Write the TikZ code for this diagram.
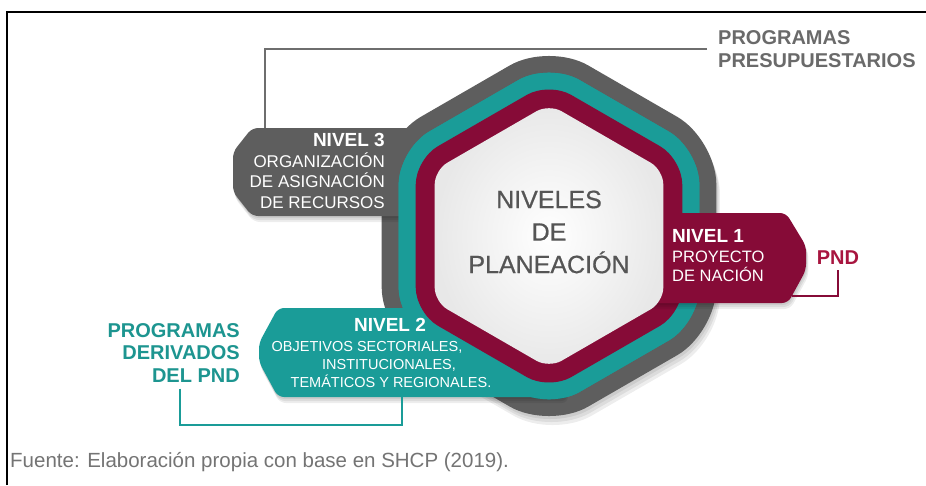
\documentclass[tikz,border=0pt]{standalone}
\usepackage{fontspec}
\setmainfont{Liberation Sans}
\newfontfamily\medfont[FakeBold=0.6]{Liberation Sans}
\usetikzlibrary{calc}
\definecolor{hgray}{HTML}{5E5E5E}
\definecolor{hteal}{HTML}{1A9C98}
\definecolor{hmaroon}{HTML}{860B37}
\definecolor{pndred}{HTML}{A8153F}
\definecolor{tealtxt}{HTML}{1D9590}
\definecolor{graytxt}{HTML}{6A6A6A}
\definecolor{centertxt}{HTML}{555555}
\definecolor{captxt}{HTML}{747474}
\newcommand{\hexpath}[1]{(549,236-#1) -- (549+0.866*#1,236-0.5*#1) -- (549+0.866*#1,236+0.5*#1) -- (549,236+#1) -- (549-0.866*#1,236+0.5*#1) -- (549-0.866*#1,236-0.5*#1) -- cycle}
\newcommand{\boxthree}{(450,128) -- (252,128) -- (233,152) -- (233,192) -- (252,216) -- (450,216) -- cycle}
\newcommand{\boxtwo}{(566,308) -- (278,308) -- (259,343) -- (259,362) -- (278,397) -- (566,397) -- cycle}
\newcommand{\boxone}{(600,213) -- (786,213) -- (806,246) -- (806,270) -- (788,303) -- (600,303) -- cycle}
\tikzset{
  shad/.style={fill=black, opacity=0.07},
  boxtxt/.style={text=white, inner sep=0pt},
  leader/.style={line width=2pt},
}
\begin{document}
\begin{tikzpicture}[x=1pt,y=-1pt]
\useasboundingbox (0,0) rectangle (926,485);
\fill[white] (0,0) rectangle (926,485);
% frame
\draw[line width=2pt] (7,485) -- (7,12) -- (926,12);

% gray hexagon with soft shadow
\foreach \s in {3,6,9} {\fill[shad, rounded corners=45, shift={(\s*0.4,\s)}] \hexpath{193.2};}
\fill[hgray, rounded corners=45] \hexpath{193.2};

% NIVEL 3 box
\foreach \s in {2,4,6} {\fill[shad, rounded corners=6, shift={(\s*0.3,\s)}] \boxthree;}
\fill[hgray, rounded corners=6] \boxthree;

% teal hexagon
\fill[hteal, rounded corners=35.2] \hexpath{173.6};

% NIVEL 2 box
\foreach \s in {2,4,6} {\fill[shad, rounded corners=6, shift={(\s*0.3,\s)}] \boxtwo;}
\fill[hteal, rounded corners=6] \boxtwo;
\fill[hteal, rounded corners=35.2] \hexpath{173.6};

% maroon hexagon
\fill[hmaroon, rounded corners=25.4] \hexpath{153.9};

% NIVEL 1 box
\foreach \s in {2,4,6} {\fill[shad, rounded corners=6, shift={(\s*0.4,\s)}] \boxone;}
\fill[hmaroon, rounded corners=6] \boxone;

% white hexagon
\shade[inner color=white, outer color=black!9, rounded corners=14.4] \hexpath{132};

% texts
\node[text=centertxt, align=center, inner sep=0pt, font=\medfont\fontsize{25}{32.5}\selectfont] (ctr) at (549,232) {NIVELES\\DE\\PLANEACIÓN};

\node[boxtxt, anchor=east, align=right, font=\fontsize{17}{20.5}\selectfont] (n3t) at (385,171)
  {{\bfseries\fontsize{19}{20.5}\selectfont NIVEL 3}\\ORGANIZACIÓN\\DE ASIGNACIÓN\\DE RECURSOS};

\node[boxtxt, anchor=west, align=left, font=\fontsize{16.5}{19.5}\selectfont] (n1t) at (672,256)
  {{\bfseries\fontsize{19}{19.5}\selectfont NIVEL 1}\\PROYECTO\\DE NACIÓN};

\node[boxtxt, anchor=base, font=\bfseries\fontsize{19}{20}\selectfont] (n2a) at (390,331) {NIVEL 2};
\node[boxtxt, anchor=base, font=\fontsize{14.5}{16}\selectfont] (n2b) at (367,351) {OBJETIVOS SECTORIALES,};
\node[boxtxt, anchor=base, font=\fontsize{14.5}{16}\selectfont] (n2c) at (389,369) {INSTITUCIONALES,};
\node[boxtxt, anchor=base, font=\fontsize{14.5}{16}\selectfont] (n2d) at (391,387) {TEMÁTICOS Y REGIONALES.};

\node[text=graytxt, anchor=west, align=left, inner sep=0pt, font=\bfseries\fontsize{20}{23}\selectfont] (pp) at (718,49) {PROGRAMAS\\PRESUPUESTARIOS};
\node[text=pndred, inner sep=0pt, font=\bfseries\fontsize{20}{22}\selectfont] (pnd) at (838,258) {PND};
\node[text=tealtxt, anchor=east, align=right, inner sep=0pt, font=\bfseries\fontsize{20}{22.5}\selectfont] (pdp) at (240,353) {PROGRAMAS\\DERIVADOS\\DEL PND};

\node[text=captxt, anchor=west, inner sep=0pt, font=\fontsize{20.5}{23}\selectfont] (cap) at (10,462) {Fuente: Elaboración propia con base en SHCP (2019).};

% connectors
\coordinate (n3top) at (265,128);
\coordinate (n1edge) at (792,296);
\coordinate (tealcorner) at (402,425);
\coordinate (n2bot) at (402,397);
\draw[leader, color=hgray!90] ([xshift=-11pt]pp.west) -| (n3top);
\draw[line width=1.6pt, color=hmaroon] ([yshift=-5pt]pnd.south) |- (n1edge);
\draw[leader, color=hteal] ([shift={(6,6)}]pdp.south) |- (tealcorner) -- (n2bot);
\end{tikzpicture}
\end{document}
